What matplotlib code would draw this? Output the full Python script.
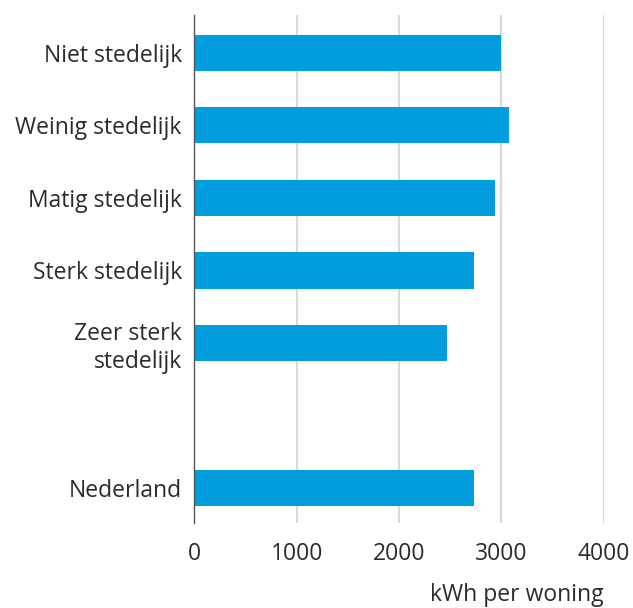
import matplotlib.pyplot as plt

categories = ['Niet stedelijk', 'Weinig stedelijk', 'Matig stedelijk',
              'Sterk stedelijk', 'Zeer sterk\nstedelijk', 'Nederland']
positions = [0, 1, 2, 3, 4, 6]
values = [3000, 3075, 2940, 2735, 2468, 2730]
xticks = [0, 1000, 2000, 3000, 4000]

plt.rcParams['font.family'] = ['Open Sans', 'DejaVu Sans']

fig = plt.figure(figsize=(6.33, 6.08), dpi=100)
ax = fig.add_axes([0.307, 0.140, 0.647, 0.835])

ax.barh(positions, values, height=0.5, color='#009ddf', zorder=3)

ax.set_xlim(0, 4000)
ax.set_ylim(6.48, -0.517)
ax.set_xticks(xticks)
ax.set_xticklabels([str(t) for t in xticks])
ax.set_yticks(positions)
ax.set_yticklabels(categories, linespacing=1.25)

for s in ['top', 'right', 'bottom']:
    ax.spines[s].set_visible(False)
ax.spines['left'].set_color('#555555')
ax.spines['left'].set_linewidth(1.0)
ax.spines['left'].set_zorder(4)

ax.grid(axis='x', color='#d9d9d9', linewidth=1.5, zorder=0)
ax.tick_params(axis='both', length=0, colors='#2b2b2b', labelsize=16.5)
ax.tick_params(axis='y', pad=9)
ax.tick_params(axis='x', pad=14)

fig.text(0.953, 0.0214, 'kWh per woning', ha='right', va='center',
         fontsize=16.5, color='#2b2b2b')

fig.savefig('out.png', dpi=100)
